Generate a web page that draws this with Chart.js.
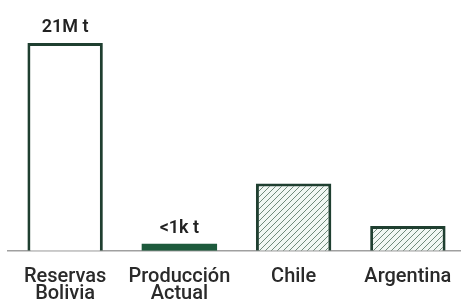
<!DOCTYPE html>
<html>
<head>
<meta charset="utf-8">
<script src="https://cdn.jsdelivr.net/npm/chart.js@4"></script>
<style>
  html, body { margin: 0; padding: 0; background: #fff; overflow: hidden; }
  #wrap { position: absolute; left: 0; top: 0; width: 465px; height: 322px; }
</style>
</head>
<body>
<div id="wrap"><canvas id="reservas"></canvas></div>
<script>
// data (millions of tonnes)
let categories = [['Reservas', 'Bolivia'], ['Producción', 'Actual'], ['Chile'], ['Argentina']];
let values = [21, 0.7, 6.8, 2.5];
let valueLabels = ['21M t', '<1k t', '', ''];

// diagonal hatch for the comparison bars
function hatch() {
    let c = document.createElement('canvas');
    c.width = 6; c.height = 6;
    let g = c.getContext('2d');
    g.fillStyle = '#f1f7f3';
    g.fillRect(0, 0, 6, 6);
    g.strokeStyle = '#6f8a7a';
    g.lineWidth = 1;
    g.beginPath();
    g.moveTo(0, 6); g.lineTo(6, 0);
    g.moveTo(-3, 3); g.lineTo(3, -3);
    g.moveTo(3, 9); g.lineTo(9, 3);
    g.stroke();
    return g.createPattern(c, 'repeat');
}

let ctx = document.querySelector('#reservas').getContext('2d');
let pattern = hatch();

// labels above the first two bars
let topLabels = {
    id: 'topLabels',
    afterDatasetsDraw(chart) {
        let c = chart.ctx;
        let meta = chart.getDatasetMeta(0);
        c.save();
        c.font = '600 18px Roboto';
        c.fillStyle = '#222';
        c.textAlign = 'center';
        c.textBaseline = 'alphabetic';
        meta.data.forEach((bar, i) => {
            if (valueLabels[i]) c.fillText(valueLabels[i], bar.x, bar.y - 11);
        });
        c.restore();
    }
};

let reservasChart = new Chart(ctx, {
    type: 'bar',
    data: {
        labels: categories,
        datasets: [{
            data: values,
            backgroundColor: ['#ffffff', '#1d5a3c', pattern, pattern],
            borderColor: '#1f3f30',
            borderWidth: [3, 0, 3, 3],
            borderSkipped: 'bottom',
            barPercentage: 0.66,
            categoryPercentage: 1
        }]
    },
    options: {
        responsive: true,
        maintainAspectRatio: false,
        animation: false,
        layout: { padding: { top: 43, left: 8, right: 0, bottom: 10 } },
        plugins: { legend: { display: false }, tooltip: { enabled: false } },
        scales: {
            y: { display: false, min: 0, max: 21 },
            x: {
                grid: { display: false },
                border: { display: true, color: '#a0a0a0', width: 1.5 },
                ticks: {
                    color: '#2a2a2a',
                    font: { family: 'Roboto', size: 20, weight: 500, lineHeight: 0.88 },
                    padding: 9,
                    maxRotation: 0,
                    autoSkip: false
                }
            }
        }
    },
    plugins: [topLabels]
});
</script>
</body>
</html>
